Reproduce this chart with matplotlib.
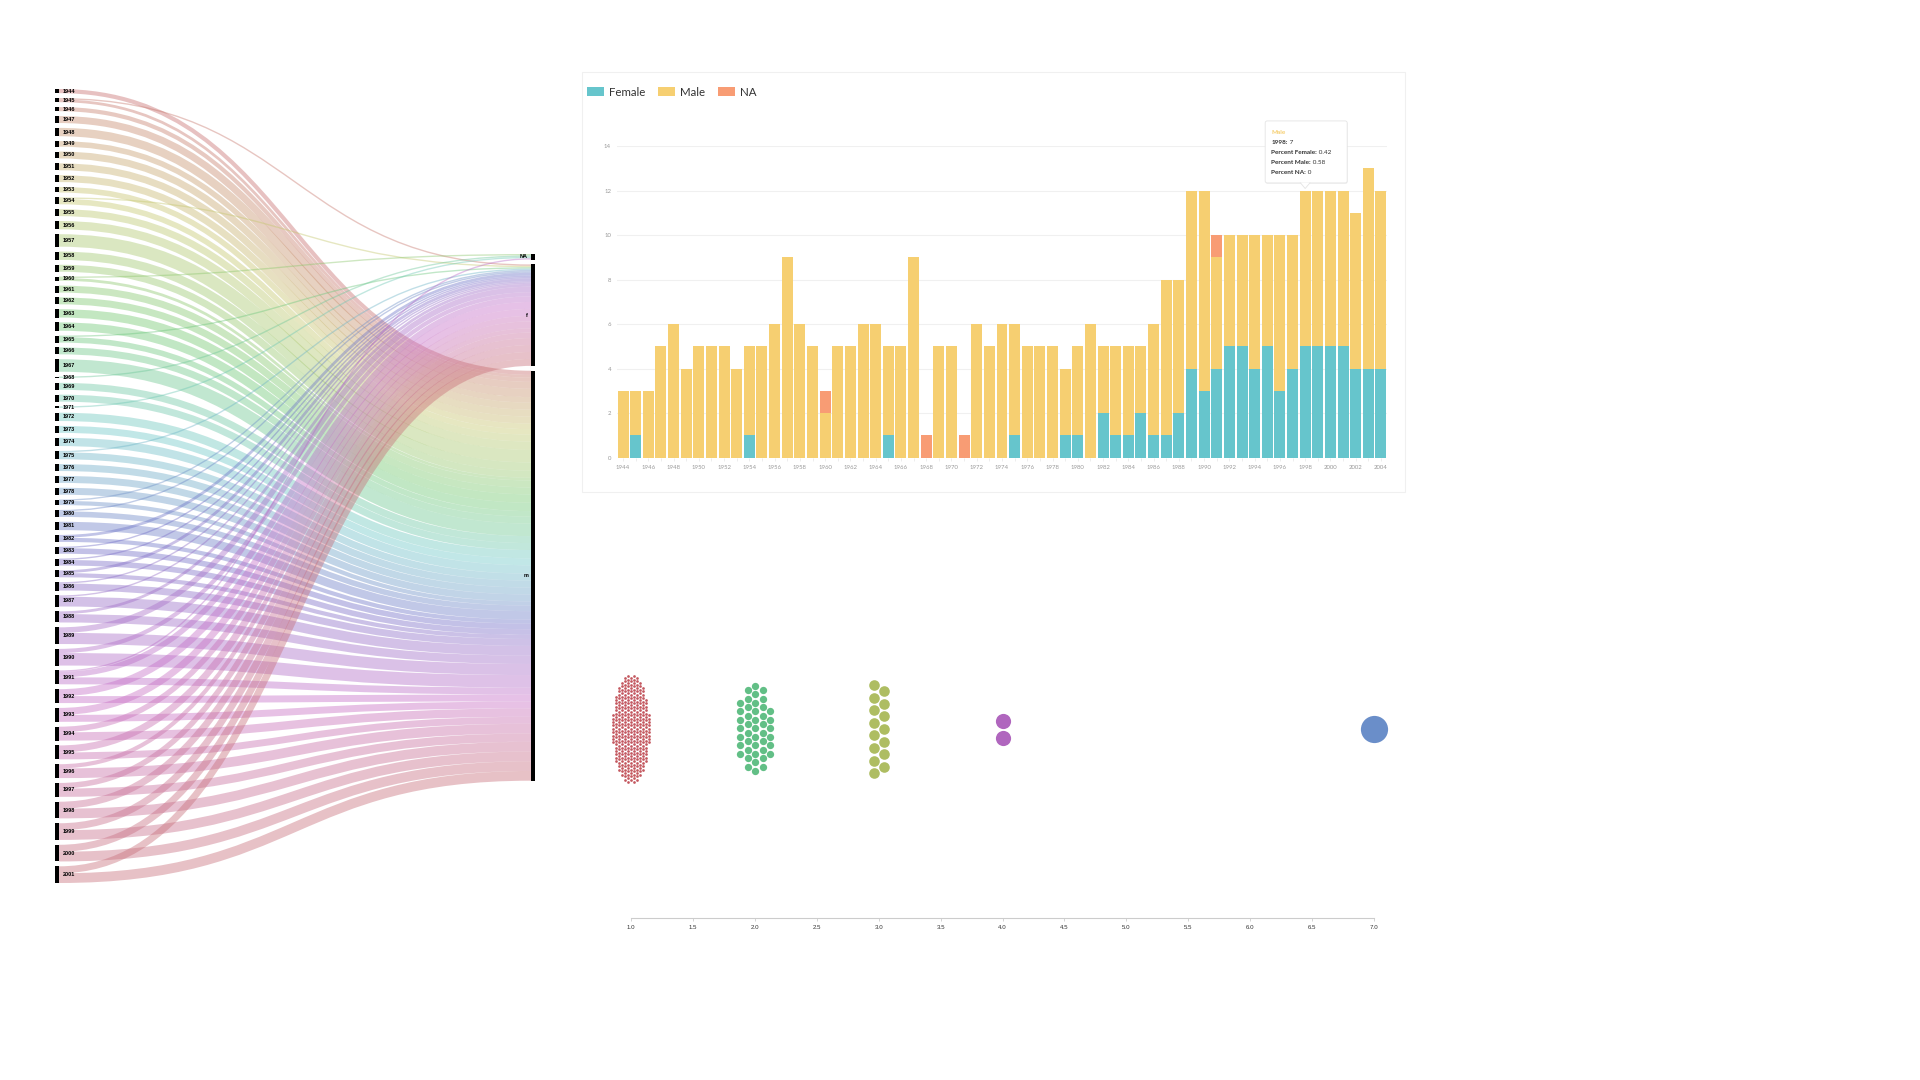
import colorsys
import numpy as np
import matplotlib
matplotlib.use("Agg")
import matplotlib.pyplot as plt
import matplotlib.transforms as mtransforms
from matplotlib.patches import Rectangle, PathPatch, FancyBboxPatch, Polygon
from matplotlib.path import Path
from matplotlib.text import Annotation

plt.rcParams['font.family'] = ['Lato', 'DejaVu Sans']

# ---- data ----
years = list(range(1944, 2005))
female = [0, 1, 0, 0, 0, 0, 0, 0, 0, 0,
          1, 0, 0, 0, 0, 0, 0, 0, 0, 0,
          0, 1, 0, 0, 0, 0, 0, 0, 0, 0,
          0, 1, 0, 0, 0, 1, 1, 0, 2, 1,
          1, 2, 1, 1, 2, 4, 3, 4, 5, 5,
          4, 5, 3, 4, 5, 5, 5, 5, 4, 4,
          4]
male = [3, 2, 3, 5, 6, 4, 5, 5, 5, 4,
        4, 5, 6, 9, 6, 5, 2, 5, 5, 6,
        6, 4, 5, 9, 0, 5, 5, 0, 6, 5,
        6, 5, 5, 5, 5, 3, 4, 6, 3, 4,
        4, 3, 5, 7, 6, 8, 9, 5, 5, 5,
        6, 5, 7, 6, 7, 7, 7, 7, 7, 9,
        8]
na = [0, 0, 0, 0, 0, 0, 0, 0, 0, 0,
      0, 0, 0, 0, 0, 0, 1, 0, 0, 0,
      0, 0, 0, 0, 1, 0, 0, 1, 0, 0,
      0, 0, 0, 0, 0, 0, 0, 0, 0, 0,
      0, 0, 0, 0, 0, 0, 0, 1, 0, 0,
      0, 0, 0, 0, 0, 0, 0, 0, 0, 0,
      0]
series_names = ['Female', 'Male', 'NA']
sankey_last_year = 2001
sankey_targets = ['NA', 'f', 'm']
tooltip_year = 1998
tooltip_series = 'Male'

swarm_values = [1, 2, 3, 4, 7]
swarm_counts = [320, 44, 15, 2, 1]

# ---- styles ----
C_F, C_M, C_NA = '#66c5cc', '#f6cf71', '#f89c74'
swarm_colors = ['#c4585f', '#62bf86', '#aebd62', '#b066be', '#6a8ec9']
swarm_radius = [1.35, 3.65, 5.3, 7.6, 13.6]
swarm_spacing = [3.4, 8.5, 12.6, 17.0, 28.0]
swarm_aspect = [0.34, 0.34, 0.22, 0.3, 1.0]
swarm_shift = [(0, 0), (0, 0), (0.5, 0), (0, 0.5), (0, 0)]

W, H = 1920, 1080
fig = plt.figure(figsize=(19.2, 10.8), dpi=100)


def add_ax(left, top, right, bottom):
    return fig.add_axes([left / W, 1 - bottom / H, (right - left) / W, (bottom - top) / H])


f = np.array(female)
m = np.array(male)
n = np.array(na)
xi = np.arange(len(years))

# ================= stacked bar chart =================
fig.add_artist(Rectangle((582 / W, 1 - 492 / H), (1405 - 582) / W, (492 - 72) / H,
                         transform=fig.transFigure, fill=False, ec='#f0f0f0', lw=0.8))
ax = add_ax(616.7, 146, 1387.3, 457.7)
b1 = ax.bar(xi, f, width=0.87, color=C_F, zorder=2)
b2 = ax.bar(xi, m, bottom=f, width=0.87, color=C_M, zorder=2)
b3 = ax.bar(xi, n, bottom=f + m, width=0.87, color=C_NA, zorder=2)
ax.set_xlim(-0.5, len(years) - 0.5)
ax.set_ylim(0, 14)
ax.set_yticks(range(0, 15, 2))
ax.grid(axis='y', color='#f0f0f0', lw=0.8)
ax.set_axisbelow(True)
ax.set_xticks(xi[::2], [str(y) for y in years[::2]])
ax.set_xticks(xi[1::2], minor=True)
for s in ax.spines.values():
    s.set_visible(False)
ax.tick_params(axis='y', length=0, pad=4, labelsize=4.3, labelcolor='#999999')
ax.tick_params(axis='x', which='both', length=2, width=0.5, color='#e6e6e6',
               pad=3, labelsize=4.3, labelcolor='#999999')

ax.legend([b1, b2, b3], series_names, ncol=3, loc='center left',
          bbox_to_anchor=(587 / W, 1 - 92 / H), bbox_transform=fig.transFigure,
          frameon=False, fontsize=8.3, handlelength=1.48, handleheight=0.87,
          handletextpad=0.43, columnspacing=1.1, borderpad=0, borderaxespad=0,
          labelcolor='#333333')

# tooltip on the hovered bar
ti = years.index(tooltip_year)
tot = f[ti] + m[ti] + n[ti]
tr = mtransforms.Affine2D() + mtransforms.ScaledTranslation(ti, tot, ax.transData)
fig.add_artist(FancyBboxPatch((-39.5, 6.6), 82, 62, boxstyle='round,pad=0,rounding_size=2',
                              transform=tr, fc='black', ec='none', alpha=0.05, zorder=9))
fig.add_artist(FancyBboxPatch((-40, 7.6), 82, 62, boxstyle='round,pad=0,rounding_size=2',
                              transform=tr, fc='white', ec='#e4e4e4', lw=0.6, zorder=10))
fig.add_artist(Polygon([(-5, 8.0), (0, 2.0), (5, 8.0)], closed=False, transform=tr,
                       fc='white', ec='#e4e4e4', lw=0.6, zorder=11))


def pct(v):
    s = f'{v / tot:.2f}'.rstrip('0').rstrip('.')
    return ' ' + (s if s else '0')


tt_lines = [(f'{tooltip_year}:', f' {m[ti]}'),
            ('Percent Female:', pct(f[ti])),
            ('Percent Male:', pct(m[ti])),
            ('Percent NA:', pct(n[ti]))]
fig.text(-34, 58.3, tooltip_series, transform=tr, fontsize=4.6, fontweight='bold',
         color=C_M, va='center', ha='left', zorder=12)
for k, (lab, val) in enumerate(tt_lines):
    t = fig.text(-34, 48.3 - 10 * k, lab, transform=tr, fontsize=4.6, fontweight='bold',
                 color='#333333', va='center', ha='left', zorder=12)
    a = Annotation(val, xy=(1, 0.5), xycoords=t, fontsize=4.6, color='#333333',
                   va='center', ha='left', zorder=13)
    fig.add_artist(a)

# ================= sankey =================
SW, SH = 480, 794
sx = add_ax(55, 89, 55 + SW, 89 + SH)
sx.set_xlim(0, SW)
sx.set_ylim(SH, 0)
sx.axis('off')

ns = years.index(sankey_last_year) + 1
src_vals = np.stack([n[:ns], f[:ns], m[:ns]], axis=1)  # columns follow sankey_targets
node_w = 4
pad = 4.86
right_top = 165
kscale = (SH - (ns - 1) * pad) / src_vals.sum()

src_y0 = []
y = 0.0
for i in range(ns):
    src_y0.append(y)
    y += src_vals[i].sum() * kscale + pad
tgt_y0 = []
y = right_top
for j in range(len(sankey_targets)):
    tgt_y0.append(y)
    y += src_vals[:, j].sum() * kscale + pad

src_off = list(src_y0)
tgt_off = list(tgt_y0)
x0, x1 = node_w, SW - node_w
xm = (x0 + x1) / 2
for i in range(ns):
    col = colorsys.hsv_to_rgb((i / ns) % 1.0, 0.45, 0.78)
    for j in range(len(sankey_targets)):
        v = src_vals[i, j]
        if v == 0:
            continue
        wdt = v * kscale
        ya = src_off[i] + wdt / 2
        yb = tgt_off[j] + wdt / 2
        src_off[i] += wdt
        tgt_off[j] += wdt
        p = Path([(x0, ya), (xm, ya), (xm, yb), (x1, yb)],
                 [Path.MOVETO, Path.CURVE4, Path.CURVE4, Path.CURVE4])
        sx.add_patch(PathPatch(p, fc='none', ec=col, lw=wdt * 0.72, alpha=0.42,
                               capstyle='butt', zorder=1))

for i in range(ns):
    h = src_vals[i].sum() * kscale
    sx.add_patch(Rectangle((0, src_y0[i]), node_w, h, fc='black', ec='none', zorder=3))
    sx.text(node_w + 4, src_y0[i] + h / 2, str(years[i]), fontsize=4, fontweight='bold',
            family=['Liberation Sans', 'DejaVu Sans'], va='center', ha='left', zorder=4)
for j, name in enumerate(sankey_targets):
    h = src_vals[:, j].sum() * kscale
    sx.add_patch(Rectangle((SW - node_w, tgt_y0[j]), node_w, h, fc='black', ec='none', zorder=3))
    sx.text(SW - node_w - 3, tgt_y0[j] + h / 2, name, fontsize=4, fontweight='bold',
            family=['Liberation Sans', 'DejaVu Sans'], va='center', ha='right', zorder=4)

# ================= beeswarm =================
BL, BR, BB = 631, 1374, 918
bx = add_ax(BL, 612, BR, BB)
bx.set_xlim(1, 7)
bx.set_ylim(0, BB - 612)
for side in ['left', 'right', 'top']:
    bx.spines[side].set_visible(False)
bx.spines['bottom'].set_color('#cccccc')
bx.spines['bottom'].set_linewidth(0.8)
bx.set_yticks([])
ticks = np.arange(1, 7.01, 0.5)
bx.set_xticks(ticks, [f'{t:.1f}' for t in ticks])
bx.tick_params(axis='x', length=2.2, width=0.6, color='#cccccc', pad=3,
               labelsize=4.4, labelcolor='#333333')
for lbl in bx.get_xticklabels():
    lbl.set_family(['Liberation Sans', 'DejaVu Sans'])

px_per_unit = (BR - BL) / 6
swarm_center = BB - 729


def hex_pack(count, d, aspect, ox, oy):
    c = int(np.sqrt(count)) + 6
    cc, rr = np.meshgrid(np.arange(-c, c + 1), np.arange(-c, c + 1))
    hx = (cc + ox) * d * np.sqrt(3) / 2
    hy = (rr + oy + 0.5 * (cc % 2)) * d
    dist = np.hypot(hx / aspect, hy).ravel()
    idx = np.argsort(dist, kind='stable')[:count]
    px, py = hx.ravel()[idx], hy.ravel()[idx]
    return px - px.mean(), py - py.mean()


for val, cnt, col, r, d, asp, (ox, oy) in zip(swarm_values, swarm_counts, swarm_colors,
                                              swarm_radius, swarm_spacing, swarm_aspect,
                                              swarm_shift):
    px, py = hex_pack(cnt, d, asp, ox, oy)
    bx.scatter(val + px / px_per_unit, swarm_center + py, s=(2 * r * 0.72) ** 2,
               color=col, lw=0, clip_on=False, zorder=3)

fig.savefig('out.png', dpi=100, facecolor='white')
